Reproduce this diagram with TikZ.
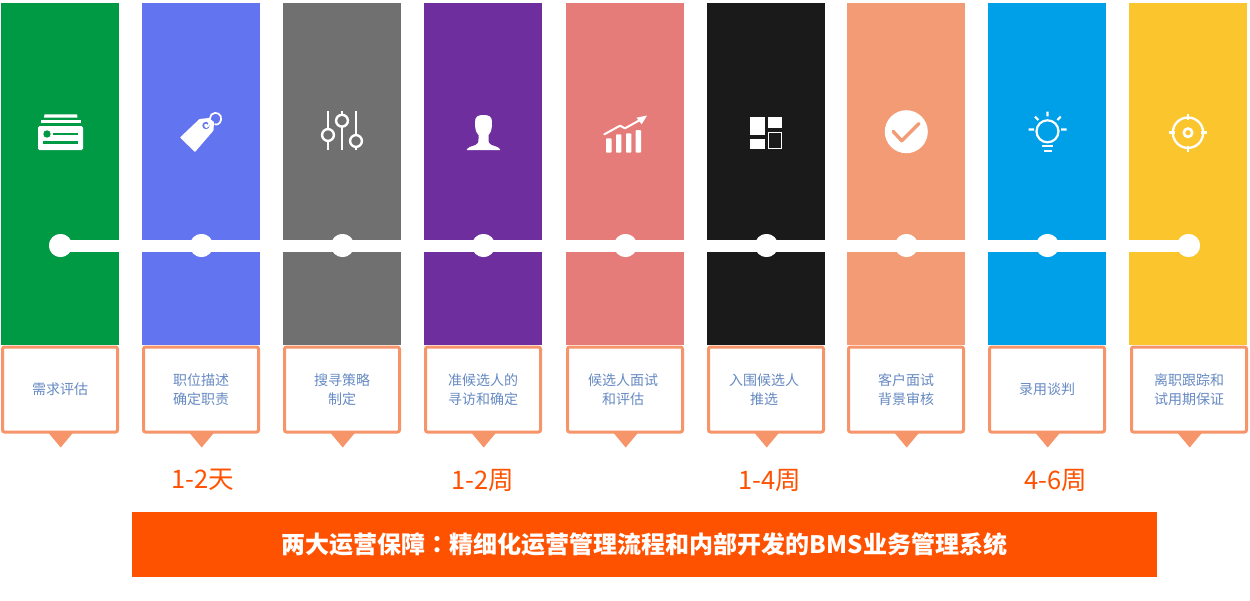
\documentclass[tikz,border=0pt]{standalone}
\usepackage{fontspec}
\setmainfont{Noto Sans CJK SC}
\newfontfamily\tcfont{Noto Sans CJK TC}
\usetikzlibrary{calc}
\definecolor{c1}{HTML}{009A44}
\definecolor{c2}{HTML}{6374F0}
\definecolor{c3}{HTML}{707070}
\definecolor{c4}{HTML}{6E2E9E}
\definecolor{c5}{HTML}{E67C79}
\definecolor{c6}{HTML}{1A1A1A}
\definecolor{c7}{HTML}{F29B75}
\definecolor{c8}{HTML}{00A0E9}
\definecolor{c9}{HTML}{FBC52D}
\definecolor{calloutline}{HTML}{F7956A}
\definecolor{calltext}{HTML}{668AC2}
\definecolor{accent}{HTML}{FF5200}
\tikzset{
  barbox/.style={rectangle,minimum width=118pt,minimum height=342pt,inner sep=0pt,draw=none},
  dotnode/.style={circle,fill=white,minimum size=23pt,inner sep=0pt,draw=none},
  band/.style={white,line width=12pt},
  callout/.style={rectangle,draw=calloutline,line width=3pt,fill=white,rounded corners=2pt,
    minimum width=115pt,minimum height=85pt,inner sep=0pt},
  calllabel/.style={text=calltext,align=center,inner sep=0pt,
    font=\fontsize{14}{19.3}\selectfont},
  pointer/.style={fill=calloutline,draw=none},
  period/.style={text=accent,inner sep=0pt,font=\fontsize{25.5}{30}\selectfont},
  banner/.style={rectangle,fill=accent,minimum width=1025pt,minimum height=65pt,inner sep=0pt,
    text=white,font=\fontsize{24}{28}\selectfont\bfseries},
  ico/.style={white,line width=2.2pt},
}
\begin{document}
\begin{tikzpicture}[x=1pt,y=-1pt]
\useasboundingbox (0,0) rectangle (1250,600);
\fill[white] (0,0) rectangle (1250,600);
\foreach \i/\x/\b/\d/\t in {
  1/1/0/0/{需求评估},
  2/142/0/0/{职位描述\\确定职责},
  3/283/0/0/{搜寻策略\\制定},
  4/424/0/0/{准候选人的\\寻访和确定},
  5/566/0/-2/{候选人面试\\和评估},
  6/707/0/-2/{入围候选人\\推选},
  7/847/0/0/{客户面试\\背景审核},
  8/988/0/0/{录用谈判},
  9/1129/1/0/{离职跟踪和\\试用期保证}}{
  \node[barbox,fill=c\i] (bar\i) at (\x+59,174) {};
  \node[dotnode] (dot\i) at (\x+59.5,245.5) {};
  \node[callout] (box\i) at (\x+59+\b,389.5) {};
  \node[calllabel] (lab\i) at (\x+59+\b+\d,389.5) {\t};
  \coordinate (pa\i) at ($(box\i.south)+(-11.8,-1)$);
  \coordinate (pb\i) at ($(box\i.south)+(13.2,-1)$);
  \coordinate (pc\i) at ($(box\i.south)+(0.7,14)$);
  \fill[pointer] (pa\i) -- (pb\i) -- (pc\i) -- cycle;
}
\draw[band] (dot1.center) -- (dot9.center);
\foreach \i in {1,...,9}{\fill[white] (dot\i) circle (11.5);}
% icon 1
\fill[white,rounded corners=1.5pt] (38,126) rectangle (83,150);
\fill[white] (40.7,119.5) rectangle (81,123);
\fill[white] (44.5,114.3) -- (77,114.3) -- (77.5,117.7) -- (44,117.7) -- cycle;
\fill[c1] (47,134) circle (3.7);
\draw[c1,line width=2.2pt] (53,134) -- (78,134) (43,142.5) -- (78,142.5);
% icon 2
\fill[white,rounded corners=0.6pt] (180,137.5) -- (199.5,119) -- (209,118) -- (214,122) -- (213.5,130.5) -- (195,152) -- cycle;
\draw[c2,line width=1.6pt,fill=white] (206,125.5) circle (2.8);
\draw[white,line width=1.7pt] (205.5,127.5) .. controls (212,125) and (208,119) .. (211.5,114.5) .. controls (216,110.5) and (222.5,114.5) .. (221,120) .. controls (220,124) and (216.5,125.5) .. (214.5,124);
% icon 3
\draw[white,line width=2.6pt] (328,111) -- (328,150) (342,111) -- (342,150) (356,111) -- (356,150);
\draw[white,line width=2.4pt,fill=c3] (328,135) circle (5.9) (342,120.7) circle (5.9) (356,141) circle (5.9);
% icon 4
\fill[white] (466.7,150) .. controls (467.5,147) and (472,146.3) .. (475.5,145)
  .. controls (478,144) and (478.5,142.5) .. (478.5,139)
  -- (478.5,135) .. controls (475.8,132) and (475,129) .. (475,122)
  .. controls (475,116.5) and (478,115) .. (483.5,115)
  .. controls (489,115) and (492,116.5) .. (492,122)
  .. controls (492,129) and (491.2,132) .. (488.5,135)
  -- (488.5,139) .. controls (488.5,142.5) and (489,144) .. (491.5,145)
  .. controls (495,146.3) and (499.5,147) .. (500.3,150) -- cycle;
% icon 5
\fill[white,rounded corners=0.8pt] (606,138.3) rectangle (611.5,152.7);
\fill[white,rounded corners=0.8pt] (616,134.3) rectangle (621.3,152.7);
\fill[white,rounded corners=0.8pt] (626,133.3) rectangle (631.3,152.7);
\fill[white,rounded corners=0.8pt] (635.7,130) rectangle (641,152.7);
\draw[white,line width=2pt,line cap=round,line join=round] (604.3,134.3) -- (620,125.7) -- (625,128.3) -- (640,120);
\fill[white] (647,115.5) -- (636.5,117.7) -- (641.7,124.3) -- cycle;
% icon 6
\fill[white] (750,117) rectangle (764.7,135);
\fill[white] (768,117) rectangle (782,128);
\fill[white] (750,138.7) rectangle (764.7,149);
\draw[white,line width=1.3pt] (768.6,132.6) rectangle (781.4,148.4);
% icon 7
\fill[white] (906.3,131.7) circle (21.5);
\draw[c7,line width=3.4pt,line cap=round,line join=round] (893,131.3) -- (901.7,140.7) -- (919,123.5);
% icon 8
\draw[ico] (1047.5,131.3) circle (11);
\draw[ico] (1041.7,146) -- (1053.3,146) (1043.5,150.7) -- (1051.5,150.7);
\draw[ico] (1047.5,111.5) -- (1047.5,116.3) (1028.7,129.5) -- (1034,129.5) (1061,129.5) -- (1066.7,129.5)
  (1035,116.7) -- (1038.3,120) (1060.7,116.7) -- (1057.3,120);
% icon 9
\draw[white,line width=2.3pt] (1188,132.7) circle (15.2);
\draw[white,line width=2.6pt] (1188,132.7) circle (4.2);
\draw[white,line width=2.8pt] (1188,114) -- (1188,120) (1188,145.5) -- (1188,151.5)
  (1169.2,132.7) -- (1175.2,132.7) (1200.8,132.7) -- (1206.8,132.7);
% periods
\node[period] (t1) at (203,480) {1-2天};
\node[period] (t2) at (483,480) {1-2周};
\node[period] (t3) at (770,480) {1-4周};
\node[period] (t4) at (1056,480) {4-6周};
\node[banner] (ban) at (644.5,544.5) {两大运营保障{\tcfont ：}精细化运营管理流程和内部开发的BMS业务管理系统};
\end{tikzpicture}
\end{document}
